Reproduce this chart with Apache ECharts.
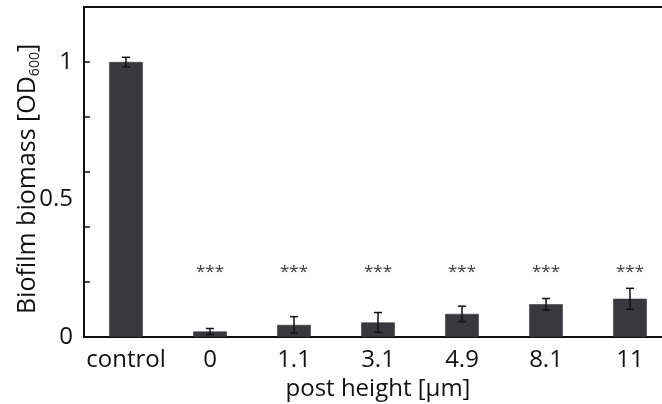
<!DOCTYPE html>
<html>
<head>
<meta charset="utf-8">
<script src="https://cdn.jsdelivr.net/npm/echarts@6/dist/echarts.min.js"></script>
<style>
  html, body { margin: 0; padding: 0; background: #fff; }
  #chart { width: 662px; height: 404px; }
</style>
</head>
<body>
<div id="chart"></div>
<script>
// Biofilm biomass per post height
const categories = ['control', '0', '1.1', '3.1', '4.9', '8.1', '11'];
const biomass = [1.0, 0.02, 0.044, 0.053, 0.084, 0.119, 0.139];
const biomassErr = [0.017, 0.011, 0.030, 0.036, 0.028, 0.021, 0.038];
const significance = ['', '***', '***', '***', '***', '***', '***'];
const starLevel = 0.25;
const yLabelTicks = [0, 0.5, 1];

const FONT = '"Open Sans", "Noto Sans", sans-serif';
const chart = echarts.init(document.getElementById('chart'), null, { renderer: 'canvas' });

chart.setOption({
  animation: false,
  grid: {
    left: 84, right: -10, top: 7, bottom: 67,
    outerBoundsMode: 'none',
    containLabel: false,
    show: true, borderColor: '#111', borderWidth: 2, backgroundColor: 'transparent'
  },
  xAxis: {
    type: 'category',
    data: categories,
    name: 'post height [\u03bcm]',
    nameLocation: 'middle',
    nameGap: 39,
    nameTextStyle: { fontFamily: FONT, fontSize: 24, color: '#111' },
    axisLine: { lineStyle: { color: '#111', width: 2 } },
    axisTick: { inside: true, length: 5, lineStyle: { color: '#111', width: 1.5 } },
    axisLabel: { interval: 0, fontFamily: FONT, fontSize: 24, color: '#111', margin: 11 }
  },
  yAxis: [
    {
      type: 'value', min: 0, max: 1.2, interval: 0.2,
      axisLine: { show: true, lineStyle: { color: '#111', width: 2 } },
      axisTick: { show: true, inside: true, length: 6, lineStyle: { color: '#111', width: 1.5 } },
      axisLabel: { show: false },
      splitLine: { show: false },
      name: 'Biofilm biomass [OD{sub|600}]',
      nameLocation: 'middle',
      nameGap: 42,
      nameTextStyle: {
        fontFamily: FONT, fontSize: 25, color: '#111',
        padding: [0, 14, 0, 0],
        rich: { sub: { fontFamily: FONT, fontSize: 14, color: '#111', verticalAlign: 'bottom', padding: [15, 0, 0, 0] } }
      }
    },
    {
      type: 'value', min: 0, max: 1.2, interval: 0.5, position: 'left',
      axisLine: { show: false }, axisTick: { show: false }, splitLine: { show: false },
      axisLabel: {
        fontFamily: FONT, fontSize: 24, color: '#111', margin: 11,
        formatter: v => (yLabelTicks.some(t => Math.abs(t - v) < 1e-9) ? String(v) : '')
      }
    }
  ],
  series: [
    {
      type: 'bar',
      data: biomass,
      barWidth: '40%',
      itemStyle: { color: '#38383d', borderColor: '#2a2a2e', borderWidth: 0.5 },
      z: 2
    },
    {
      // error bars: mean ± err with caps
      type: 'custom',
      data: biomass.map((v, i) => [i, v, biomassErr[i]]),
      renderItem: (params, api) => {
        const i = api.value(0), m = api.value(1), e = api.value(2);
        const hi = api.coord([i, m + e]);
        const lo = api.coord([i, m - e]);
        const cap = 4;
        const style = { stroke: '#111', lineWidth: 1.5 };
        return {
          type: 'group',
          children: [
            { type: 'line', shape: { x1: hi[0], y1: hi[1], x2: lo[0], y2: lo[1] }, style },
            { type: 'line', shape: { x1: hi[0] - cap, y1: hi[1], x2: hi[0] + cap, y2: hi[1] }, style },
            { type: 'line', shape: { x1: lo[0] - cap, y1: lo[1], x2: lo[0] + cap, y2: lo[1] }, style }
          ]
        };
      },
      z: 3
    },
    {
      // significance markers
      type: 'custom',
      data: significance.map((s, i) => [i, starLevel, s]),
      renderItem: (params, api) => {
        const p = api.coord([api.value(0), api.value(1)]);
        return {
          type: 'text',
          x: p[0], y: p[1] + 4,
          style: {
            text: significance[params.dataIndex],
            fontFamily: FONT, fontSize: 17, fill: '#3a3a3a',
            align: 'center', verticalAlign: 'middle'
          }
        };
      },
      z: 4
    }
  ]
});
</script>
</body>
</html>
